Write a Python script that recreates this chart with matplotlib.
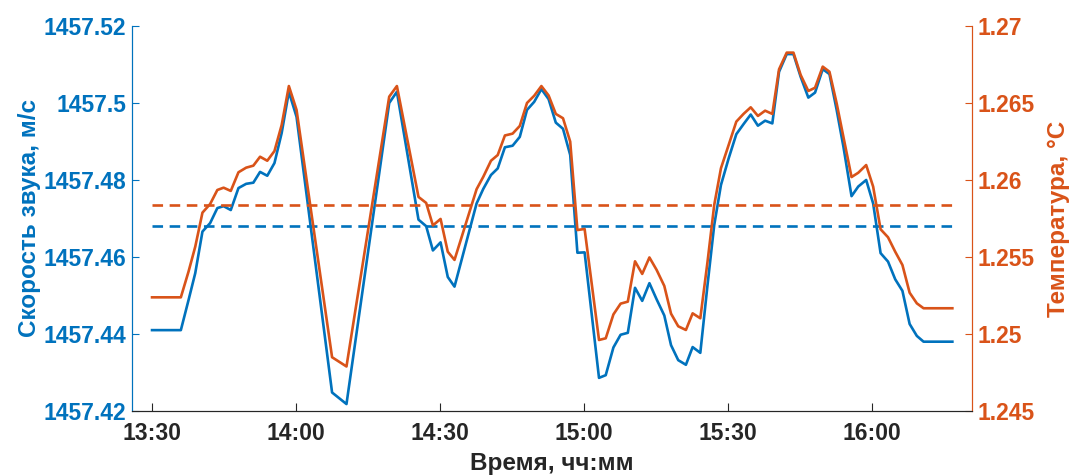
import matplotlib
matplotlib.use("Agg")
import matplotlib.pyplot as plt

plt.rcParams['font.family'] = ['Liberation Sans', 'DejaVu Sans']

# time in minutes after 13:30
minutes = [0.0, 6.0, 7.6, 9.0, 10.5, 12.1, 13.6, 14.9, 16.4, 18.0, 19.6, 21.1, 22.5, 24.0,
           25.5, 27.0, 28.5, 30.1, 37.5, 40.5, 49.4, 51.0, 55.5, 57.1, 58.5, 60.1, 61.6,
           63.0, 67.6, 69.0, 70.6, 72.0, 73.5, 75.1, 76.6, 78.1, 79.6, 81.1, 82.6, 84.1,
           85.6, 87.1, 88.6, 90.1, 93.1, 94.5, 96.1, 97.6, 99.1, 100.6, 102.1, 103.6,
           105.1, 106.7, 108.1, 109.6, 111.2, 112.6, 114.2, 115.7, 117.1, 118.5, 120.1,
           121.7, 123.2, 124.7, 126.2, 127.7, 129.2, 130.6, 132.2, 133.6, 135.1, 136.7,
           138.1, 139.7, 141.1, 142.6, 144.0, 145.7, 147.1, 148.75, 150.2, 151.75, 153.3,
           154.8, 156.3, 157.8, 159.3, 160.7, 166.7]

sound_speed = [1457.4410, 1457.4410, 1457.4488, 1457.4558, 1457.4666, 1457.4688, 1457.4727,
               1457.4732, 1457.4722, 1457.4779, 1457.4790, 1457.4793, 1457.4821, 1457.4811,
               1457.4844, 1457.4922, 1457.5029, 1457.4964, 1457.4248, 1457.4218, 1457.5000,
               1457.5029, 1457.4697, 1457.4680, 1457.4617, 1457.4638, 1457.4548, 1457.4523,
               1457.4739, 1457.4777, 1457.4813, 1457.4830, 1457.4885, 1457.4889, 1457.4912,
               1457.4982, 1457.5003, 1457.5036, 1457.5010, 1457.4949, 1457.4933, 1457.4865,
               1457.4611, 1457.4612, 1457.4286, 1457.4293, 1457.4365, 1457.4398, 1457.4403,
               1457.4520, 1457.4486, 1457.4532, 1457.4490, 1457.4448, 1457.4371, 1457.4332,
               1457.4320, 1457.4366, 1457.4351, 1457.4527, 1457.4683, 1457.4787, 1457.4856,
               1457.4919, 1457.4945, 1457.4970, 1457.4941, 1457.4954, 1457.4947, 1457.5081,
               1457.5127, 1457.5127, 1457.5068, 1457.5014, 1457.5027, 1457.5088, 1457.5075,
               1457.4982, 1457.4887, 1457.4758, 1457.4783, 1457.4800, 1457.4739, 1457.4610,
               1457.4588, 1457.4542, 1457.4512, 1457.4426, 1457.4395, 1457.4380, 1457.4380]

temperature = [1.25238, 1.25238, 1.25405, 1.25567, 1.25788, 1.25844, 1.25935, 1.25950,
               1.25929, 1.26050, 1.26080, 1.26093, 1.26151, 1.26125, 1.26188, 1.26357,
               1.26610, 1.26455, 1.24849, 1.24789, 1.26541, 1.26610, 1.25890, 1.25851,
               1.25705, 1.25747, 1.25534, 1.25481, 1.25940, 1.26021, 1.26125, 1.26162,
               1.26289, 1.26301, 1.26351, 1.26500, 1.26547, 1.26610, 1.26549, 1.26429,
               1.26401, 1.26249, 1.25675, 1.25682, 1.24961, 1.24972, 1.25127, 1.25197,
               1.25210, 1.25472, 1.25390, 1.25497, 1.25416, 1.25312, 1.25132, 1.25050,
               1.25026, 1.25134, 1.25102, 1.25468, 1.25838, 1.26076, 1.26227, 1.26379,
               1.26429, 1.26472, 1.26416, 1.26450, 1.26429, 1.26719, 1.26827, 1.26827,
               1.26682, 1.26578, 1.26599, 1.26736, 1.26703, 1.26498, 1.26281, 1.26019,
               1.26047, 1.26097, 1.25957, 1.25680, 1.25628, 1.25534, 1.25448, 1.25268,
               1.25199, 1.25167, 1.25167]

sound_mean = 1457.468
temp_mean = 1.25838

x_ticks = [0, 30, 60, 90, 120, 150]
x_tick_labels = ["13:30", "14:00", "14:30", "15:00", "15:30", "16:00"]
left_ticks = [1457.42, 1457.44, 1457.46, 1457.48, 1457.50, 1457.52]
left_tick_labels = ["1457.42", "1457.44", "1457.46", "1457.48", "1457.5", "1457.52"]
right_ticks = [1.245, 1.25, 1.255, 1.26, 1.265, 1.27]
right_tick_labels = ["1.245", "1.25", "1.255", "1.26", "1.265", "1.27"]

BLUE = '#0072BD'
ORANGE = '#D95319'
GRAY = '#262626'
FS = 16.5
LFS = 17.5

fig = plt.figure(figsize=(10.69, 4.76), dpi=100)
ax = fig.add_axes([0.1235, 0.1366, 0.9093 - 0.1235, 0.9454 - 0.1366])
ax2 = ax.twinx()

ax.plot(minutes, sound_speed, color=BLUE, lw=1.9)
ax.plot([minutes[0], minutes[-1]], [sound_mean, sound_mean], color=BLUE, lw=1.9,
        ls=(0, (4, 2.5)))
ax2.plot(minutes, temperature, color=ORANGE, lw=1.9)
ax2.plot([minutes[0], minutes[-1]], [temp_mean, temp_mean], color=ORANGE, lw=1.9,
         ls=(0, (4, 2.5)))

ax.set_xlim(-4.17, 170.8)
ax.set_ylim(1457.42, 1457.52)
ax2.set_ylim(1.245, 1.27)

ax.set_xticks(x_ticks)
ax.set_xticklabels(x_tick_labels, fontsize=FS, fontweight='bold', color=GRAY)
ax.set_yticks(left_ticks)
ax.set_yticklabels(left_tick_labels, fontsize=FS, fontweight='bold', color=BLUE)
ax2.set_yticks(right_ticks)
ax2.set_yticklabels(right_tick_labels, fontsize=FS, fontweight='bold', color=ORANGE)

for a in (ax, ax2):
    a.spines['top'].set_visible(False)
    a.spines['left'].set_color(BLUE)
    a.spines['right'].set_color(ORANGE)
    a.spines['bottom'].set_color(GRAY)
    for s in a.spines.values():
        s.set_linewidth(0.8)

ax.tick_params(axis='x', direction='in', length=6, width=0.8, color=GRAY, pad=8)
ax.tick_params(axis='y', direction='in', length=5, width=0.8, color=BLUE, pad=4)
ax2.tick_params(axis='y', direction='in', length=5, width=0.8, color=ORANGE, pad=4)

ax.set_xlabel("Время, чч:мм", fontsize=LFS, fontweight='bold', color=GRAY, labelpad=5)
ax.set_ylabel("Скорость звука, м/с", fontsize=LFS, fontweight='bold', color=BLUE, labelpad=2)
ax2.set_ylabel("Температура, °C", fontsize=LFS, fontweight='bold', color=ORANGE, labelpad=9)

fig.savefig("out.png", dpi=100)
